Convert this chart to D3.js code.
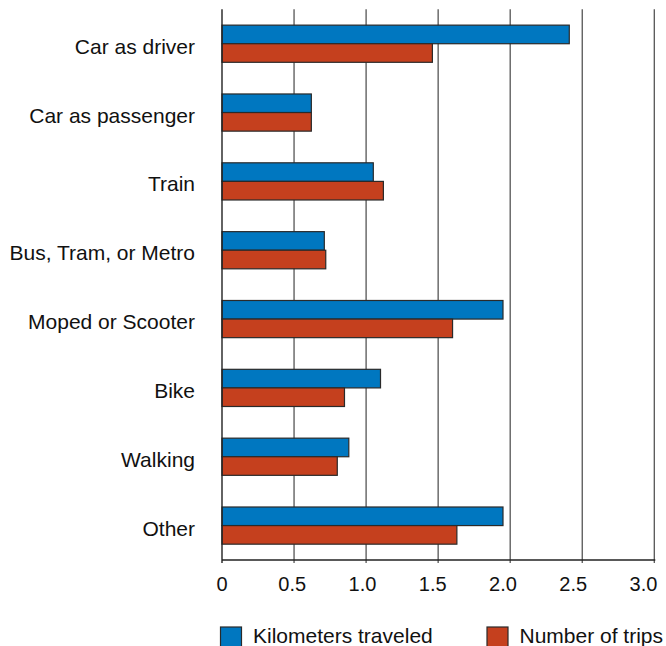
<!DOCTYPE html>
<html><head><meta charset="utf-8">
<script src="https://cdn.jsdelivr.net/npm/d3@7"></script>
<style>body{margin:0;background:#fff;}svg{display:block;font-family:"Liberation Sans",Arial,sans-serif;}</style>
</head><body>
<svg id="chart" width="666" height="646"></svg>
<script>
const categories = ["Car as driver","Car as passenger","Train","Bus, Tram, or Metro","Moped or Scooter","Bike","Walking","Other"];
const kilometers = [2.41, 0.62, 1.05, 0.71, 1.95, 1.10, 0.88, 1.95];
const trips = [1.46, 0.62, 1.12, 0.72, 1.60, 0.85, 0.80, 1.63];
const tickValues = [0, 0.5, 1.0, 1.5, 2.0, 2.5, 3.0];
const tickLabels = ["0","0.5","1.0","1.5","2.0","2.5","3.0"];
const seriesNames = ["Kilometers traveled","Number of trips"];
const colors = ["#0077c0","#c5401e"];

const svg = d3.select("#chart");
const x = d3.scaleLinear().domain([0,3]).range([222,654.3]);
const xLabel = d3.scaleLinear().domain([0,3]).range([222,643.5]);
const y = d3.scaleBand().domain(categories).range([9.3,560]).padding(0);
const bh = y.bandwidth()*0.27;

// grid
svg.append("g").selectAll("line").data(tickValues.slice(1)).join("line")
  .attr("x1",d=>x(d)).attr("x2",d=>x(d)).attr("y1",9.3).attr("y2",563)
  .attr("stroke","#555").attr("stroke-width",1.3);

// bars
const g = svg.append("g");
categories.forEach((c,i)=>{
  const cy = y(c)+y.bandwidth()/2;
  [kilometers[i],trips[i]].forEach((v,j)=>{
    g.append("rect").attr("x",x(0)).attr("y",cy - bh + j*bh).attr("width",x(v)-x(0)).attr("height",bh)
      .attr("fill",colors[j]).attr("stroke","#2a2a2a").attr("stroke-width",1.2);
  });
  svg.append("text").attr("x",195).attr("y",cy+10).attr("text-anchor","end")
    .attr("font-size",21).attr("fill","#111").text(c);
});

// axes lines
svg.append("line").attr("x1",x(0)).attr("x2",x(0)).attr("y1",9.3).attr("y2",563).attr("stroke","#222").attr("stroke-width",1.4);
svg.append("line").attr("x1",x(0)).attr("x2",x(3)+1).attr("y1",560).attr("y2",560).attr("stroke","#222").attr("stroke-width",1.4);

// tick labels
svg.append("g").selectAll("text").data(tickValues).join("text")
  .attr("x",d=>xLabel(d)).attr("y",591).attr("text-anchor","middle").attr("font-size",20).attr("fill","#111")
  .text((d,i)=>tickLabels[i]);

// legend
const lx = [220.5, 487];
seriesNames.forEach((n,i)=>{
  svg.append("rect").attr("x",lx[i]).attr("y",627).attr("width",21).attr("height",21)
    .attr("fill",colors[i]).attr("stroke","#2a2a2a").attr("stroke-width",1.2);
  svg.append("text").attr("x",lx[i]+32.5).attr("y",643).attr("font-size",21).attr("fill","#111").text(n);
});
</script>
</body></html>
